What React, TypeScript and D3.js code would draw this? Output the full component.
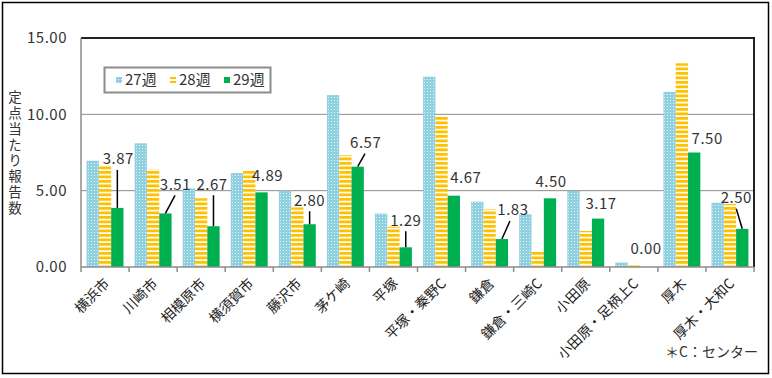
import React from "react";
import * as d3 from "d3";

const categories = ["横浜市", "川崎市", "相模原市", "横須賀市", "藤沢市", "茅ケ崎", "平塚", "平塚・秦野C", "鎌倉", "鎌倉・三崎C", "小田原", "小田原・足柄上C", "厚木", "厚木・大和C"];
const seriesNames = ["27週", "28週", "29週"];
const week27 = [6.96, 8.1, 5.15, 6.15, 5.0, 11.26, 3.5, 12.47, 4.28, 3.47, 4.98, 0.3, 11.48, 4.21];
const week28 = [6.63, 6.42, 4.5, 6.3, 3.9, 7.33, 2.64, 9.9, 3.78, 1.0, 2.36, 0.15, 13.34, 4.13];
const week29 = [3.87, 3.51, 2.67, 4.89, 2.8, 6.57, 1.29, 4.67, 1.83, 4.5, 3.17, 0.0, 7.5, 2.5];
const yTicks = [0, 5, 10, 15];
const yTitle = "定点当たり報告数";
const note = "＊C：センター";

// label layout (offset of label centre from top of 29週 bar, leader start dx)
const labelLayout: { dx: number; dy: number; leader: number | null }[] = [
  { dx: 1, dy: -49, leader: 0 },
  { dx: 10, dy: -29, leader: 9.6 },
  { dx: -1.5, dy: -42, leader: 0 },
  { dx: 6, dy: -17, leader: null },
  { dx: 0, dy: -24, leader: 0 },
  { dx: 8, dy: -24, leader: 7.3 },
  { dx: 0, dy: -27, leader: 0 },
  { dx: 12, dy: -18, leader: null },
  { dx: 11, dy: -29, leader: 8 },
  { dx: 1, dy: -17, leader: null },
  { dx: 3, dy: -15, leader: null },
  { dx: 0, dy: -18, leader: null },
  { dx: 13, dy: -14, leader: null },
  { dx: -6, dy: -31, leader: -6 },
];

const W = 772;
const H = 378;
const left = 81;
const right = 754;
const top = 38;
const bottom = 267;
const FONT = "'Noto Sans CJK JP', 'Noto Sans', sans-serif";
const BLUE = "#8fd0e0";
const ORANGE = "#ffc000";
const GREEN = "#00b050";

export default function App() {
  const x = d3.scaleBand<string>().domain(categories).range([left, right]).padding(0);
  const x1 = d3.scaleBand<string>().domain(seriesNames).range([0, x.bandwidth()]).paddingInner(0).paddingOuter(0.454);
  const y = d3.scaleLinear().domain([0, 15]).range([bottom, top]);
  const series = [week27, week28, week29];
  const fills = ["url(#p27)", "url(#p28)", GREEN];

  return (
    <svg width={W} height={H} style={{ position: "absolute", left: 0, top: 0, background: "#fff" }} fontFamily={FONT}>
      <defs>
        <pattern id="p27" width={3} height={3} patternUnits="userSpaceOnUse">
          <rect width={3} height={3} fill={BLUE} />
          <rect x={1} y={1} width={1} height={1} fill="#e8f6fa" />
        </pattern>
        <pattern id="p28" width={4.5} height={4.5} patternUnits="userSpaceOnUse">
          <rect width={4.5} height={4.5} fill="#fff" />
          <rect y={0} width={4.5} height={2.8} fill={ORANGE} />
        </pattern>
      </defs>
      <rect x={2.5} y={2.5} width={766} height={371} fill="#fff" stroke="#000" strokeWidth={1.5} />

      {/* gridlines */}
      {yTicks.filter((t) => t > 0 && t < 15).map((t) => (
        <line key={t} x1={left} x2={right} y1={y(t)} y2={y(t)} stroke="#8c8c8c" strokeWidth={1} />
      ))}
      {/* top and right border */}
      <line x1={left} x2={right + 1} y1={y(15)} y2={y(15)} stroke="#222" strokeWidth={2} />
      <line x1={right} x2={right} y1={y(15)} y2={bottom} stroke="#222" strokeWidth={2} />

      {/* bars */}
      {series.map((vals, si) =>
        categories.map((c, i) => {
          const v = vals[i];
          const bx = (x(c) as number) + (x1(seriesNames[si]) as number);
          return (
            <rect key={`${si}-${i}`} x={bx} y={y(v)} width={x1.bandwidth()} height={bottom - y(v)} fill={fills[si]} />
          );
        })
      )}

      {/* axes */}
      <line x1={left} x2={left} y1={y(15)} y2={bottom} stroke="#8c8c8c" strokeWidth={1.5} />
      <line x1={left} x2={right} y1={bottom} y2={bottom} stroke="#8c8c8c" strokeWidth={1.5} />
      {d3.range(categories.length + 1).map((i) => {
        const tx = left + i * x.step();
        return <line key={i} x1={tx} x2={tx} y1={bottom} y2={bottom + 5} stroke="#8c8c8c" strokeWidth={1.5} />;
      })}

      {/* y tick labels */}
      {yTicks.map((t) => (
        <text key={t} x={67} y={y(t)} dy="0.36em" textAnchor="end" fontSize={15} fill="#333" letterSpacing={0.5}>
          {t.toFixed(2)}
        </text>
      ))}

      {/* y title */}
      <text x={15} y={90} fontSize={13.5} fill="#333" letterSpacing={2.4} style={{ writingMode: "vertical-rl" }}>
        {yTitle}
      </text>

      {/* x labels */}
      {categories.map((c) => {
        const cx = (x(c) as number) + x.bandwidth() / 2 + 2;
        const cy = 281;
        return (
          <text key={c} x={cx} y={cy} dy="0.35em" textAnchor="end" fontSize={14} fill="#222" transform={`rotate(-45 ${cx} ${cy})`}>
            {c}
          </text>
        );
      })}

      {/* data labels */}
      {categories.map((c, i) => {
        const v = week29[i];
        const bx = (x(c) as number) + (x1("29週") as number) + x1.bandwidth() / 2;
        const by = y(v);
        const L = labelLayout[i];
        const lx = bx + L.dx;
        const ly = by + L.dy;
        return (
          <g key={c}>
            {L.leader !== null && (
              <line x1={bx + L.leader} y1={ly + 11} x2={bx} y2={by} stroke="#000" strokeWidth={1.5} />
            )}
            <text x={lx} y={ly} dy="0.36em" textAnchor="middle" fontSize={15} fill="#333" letterSpacing={0.5}>
              {v.toFixed(2)}
            </text>
          </g>
        );
      })}

      {/* legend */}
      <rect x={104.5} y={67.5} width={166} height={25} fill="#fff" stroke="#8c8c8c" strokeWidth={2} />
      {seriesNames.map((s, k) => {
        const mx = 116 + k * 54;
        const my = 80;
        return (
          <g key={s}>
            {k === 0 && <rect x={mx} y={my - 3} width={6} height={6} fill="url(#p27)" />}
            {k === 1 && (
              <g>
                <rect x={mx} y={my - 3} width={6} height={2} fill={ORANGE} />
                <rect x={mx} y={my + 1} width={6} height={2} fill={ORANGE} />
              </g>
            )}
            {k === 2 && <rect x={mx} y={my - 3} width={6} height={6} fill={GREEN} />}
            <text x={mx + 9} y={my} dy="0.36em" fontSize={15} fill="#333">
              {s}
            </text>
          </g>
        );
      })}

      {/* note */}
      <text x={758} y={352} dy="0.36em" textAnchor="end" fontSize={14} fill="#333">
        {note}
      </text>
    </svg>
  );
}
